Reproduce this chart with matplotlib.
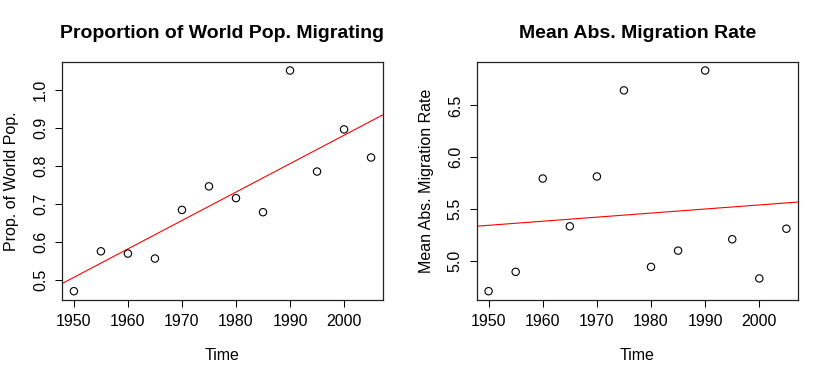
import numpy as np
import matplotlib
matplotlib.use("Agg")
import matplotlib.pyplot as plt

plt.rcParams['font.family'] = ['Liberation Sans', 'DejaVu Sans']

years = [1950, 1955, 1960, 1965, 1970, 1975, 1980, 1985, 1990, 1995, 2000, 2005]
prop_world_pop = [0.470, 0.575, 0.569, 0.556, 0.684, 0.746, 0.715, 0.678, 1.051, 0.785, 0.896, 0.822]
mean_abs_rate = [4.704, 4.891, 5.793, 5.331, 5.813, 6.645, 4.939, 5.096, 6.837, 5.206, 4.827, 5.308]

x_ticks = [1950, 1960, 1970, 1980, 1990, 2000]
left_yticks = [0.5, 0.6, 0.7, 0.8, 0.9, 1.0]
right_yticks = [5.0, 5.5, 6.0, 6.5]


def r_range(vals):
    lo, hi = min(vals), max(vals)
    pad = (hi - lo) * 0.04
    return lo - pad, hi + pad


def panel(ax, x, y, title, ylabel, yticks):
    x = np.array(x, dtype=float)
    y = np.array(y, dtype=float)
    ax.scatter(x, y, s=28, facecolors='none', edgecolors='black', linewidths=0.8, zorder=3)
    xlo, xhi = r_range(x)
    slope, icept = np.polyfit(x, y, 1)
    xs = np.array([xlo, xhi])
    ax.plot(xs, icept + slope * xs, color='#FF0000', lw=0.8, zorder=2)
    ax.set_xlim(xlo, xhi)
    ax.set_ylim(*r_range(y))
    ax.set_xticks(x_ticks)
    ax.set_yticks(yticks)
    ax.set_yticklabels([f"{v:.1f}" for v in yticks], rotation=90, va='center')
    ax.tick_params(direction='out', length=5, width=0.75, pad=5, labelsize=11.5)
    for s in ax.spines.values():
        s.set_linewidth(0.9)
        s.set_color('#222222')
    ax.set_title(title, fontsize=14, fontweight='bold', pad=17)
    ax.set_xlabel("Time", fontsize=11.5, labelpad=14)
    ax.set_ylabel(ylabel, fontsize=11.5, labelpad=10)


fig = plt.figure(figsize=(8.3, 3.78), dpi=100)
ax1 = fig.add_axes([0.0747, 0.2063, 0.3867, 0.6305])
ax2 = fig.add_axes([0.5743, 0.2063, 0.3875, 0.6305])

panel(ax1, years, prop_world_pop, "Proportion of World Pop. Migrating",
      "Prop. of World Pop.", left_yticks)
panel(ax2, years, mean_abs_rate, "Mean Abs. Migration Rate",
      "Mean Abs. Migration Rate", right_yticks)

fig.savefig("out.png", dpi=100)
